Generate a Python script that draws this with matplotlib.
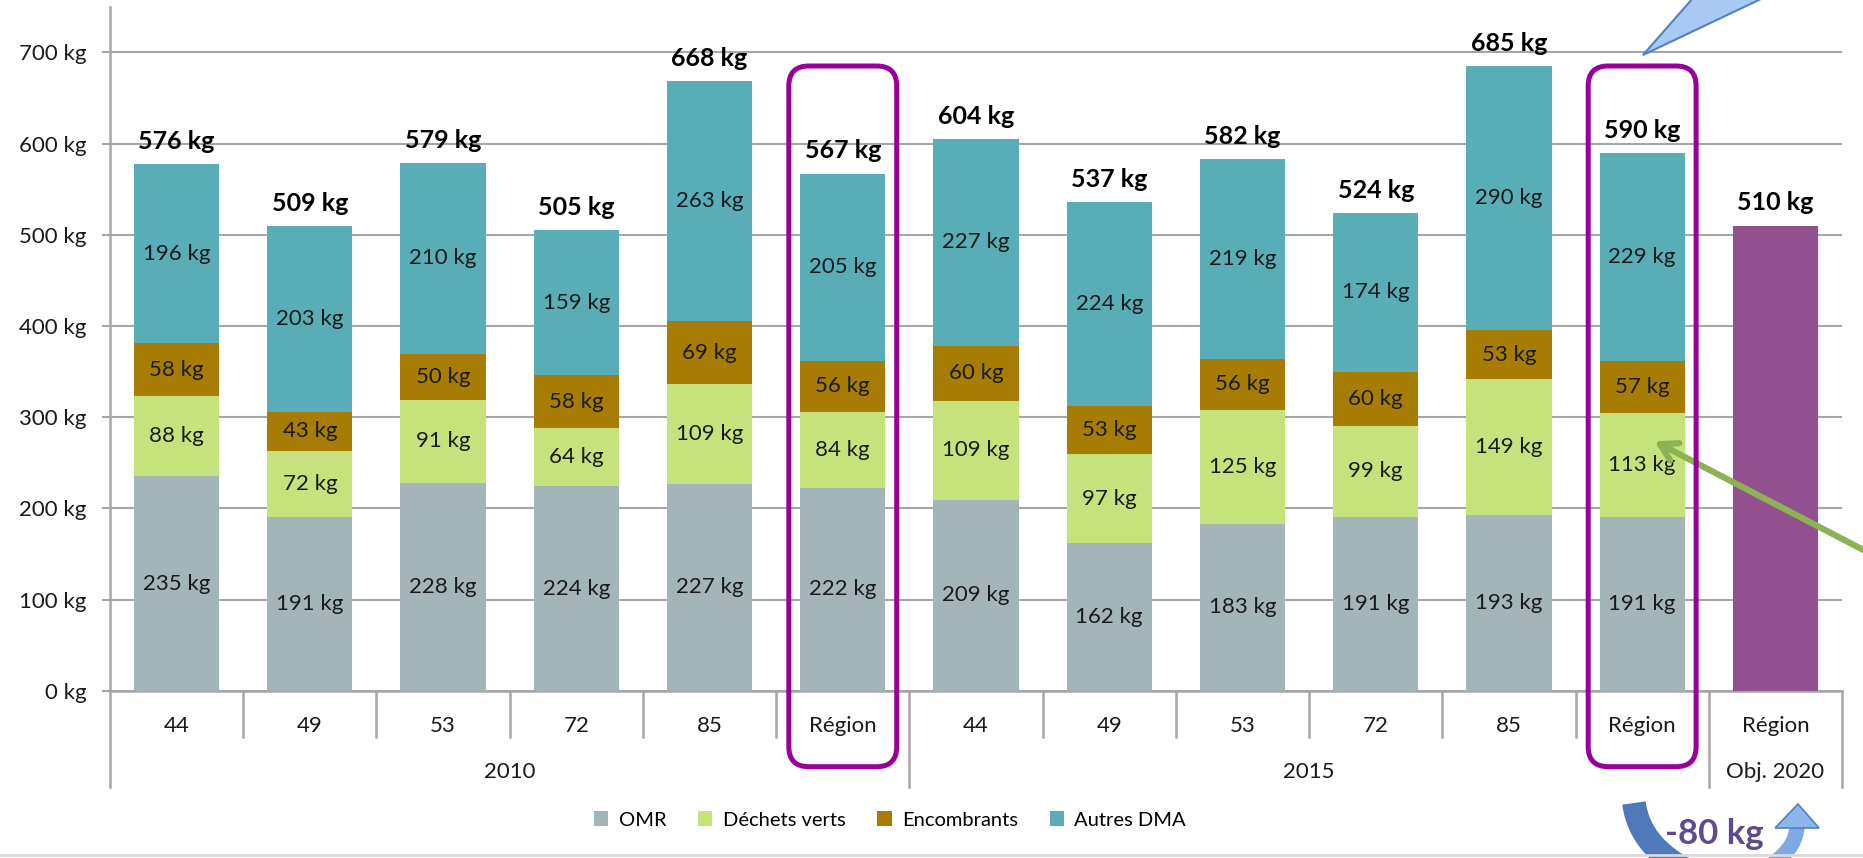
import matplotlib
matplotlib.use('Agg')
import matplotlib.pyplot as plt
import numpy as np
from matplotlib.patches import FancyBboxPatch, Polygon, FancyArrowPatch, PathPatch
from matplotlib.path import Path
from matplotlib.lines import Line2D

plt.rcParams['font.family'] = ['Lato', 'DejaVu Sans']

# data (kg / habitant)
categories = ['44', '49', '53', '72', '85', 'Région',
              '44', '49', '53', '72', '85', 'Région', 'Région']
omr = [235, 191, 228, 224, 227, 222, 209, 162, 183, 191, 193, 191]
dechets_verts = [88, 72, 91, 64, 109, 84, 109, 97, 125, 99, 149, 113]
encombrants = [58, 43, 50, 58, 69, 56, 60, 53, 56, 60, 53, 57]
autres = [196, 203, 210, 159, 263, 205, 227, 224, 219, 174, 290, 229]
totals = [576, 509, 579, 505, 668, 567, 604, 537, 582, 524, 685, 590]
objectif = 510
groups = ['2010', '2015', 'Obj. 2020']
group_centers = [2.5, 8.5, 12]

W, H = 1863, 858
fig = plt.figure(figsize=(W / 100, H / 100), dpi=100)

def fp(x, y):
    return (x / W, 1 - y / H)

y0 = 690.7      # pixel row of 0 kg
pxper = 0.912   # pixels per kg
ytop = 750
ax = fig.add_axes([110 / W, 1 - y0 / H, 1732 / W, ytop * pxper / H])

def dy(px):
    # pixel offset below the zero line -> data units
    return -px / pxper

c_omr = '#A4B5BA'
c_dv = '#C6E27C'
c_enc = '#A67C02'
c_aut = '#58ADB6'
c_obj = '#93508E'
grey = '#A6A6A6'
txt = '#1a1a1a'

x = np.arange(len(omr))
w = 0.64
b1 = np.array(omr)
b2 = b1 + np.array(dechets_verts)
b3 = b2 + np.array(encombrants)
ax.bar(x, omr, w, color=c_omr, zorder=3, label='OMR')
ax.bar(x, dechets_verts, w, bottom=b1, color=c_dv, zorder=3, label='Déchets verts')
ax.bar(x, encombrants, w, bottom=b2, color=c_enc, zorder=3, label='Encombrants')
ax.bar(x, autres, w, bottom=b3, color=c_aut, zorder=3, label='Autres DMA')
ax.bar([12], [objectif], w, color=c_obj, zorder=3)

for vals, bots in [(omr, np.zeros(len(omr))), (dechets_verts, b1),
                   (encombrants, b2), (autres, b3)]:
    for i, (v, b) in enumerate(zip(vals, bots)):
        ax.text(i, b + v / 2, f'{v} kg', ha='center', va='center',
                fontsize=16, color=txt, zorder=5)

for i, t in enumerate(totals + [objectif]):
    top = (b3[i] + autres[i]) if i < len(totals) else objectif
    ax.annotate(f'{t} kg', (i, top), xytext=(0, 8), textcoords='offset points',
                ha='center', va='bottom', fontsize=18, fontweight='bold', color='black')

ax.set_xlim(-0.5, 12.5)
ax.set_ylim(0, ytop)
ax.set_yticks(range(0, 701, 100))
ax.set_yticklabels([f'{v} kg' for v in range(0, 701, 100)], fontsize=16, color=txt)
ax.tick_params(axis='y', length=6, width=1.5, color=grey, pad=11)
ax.set_xticks(x.tolist() + [12])
ax.set_xticklabels(categories, fontsize=16, color=txt)
ax.tick_params(axis='x', length=0, pad=18)
ax.yaxis.grid(True, color=grey, lw=1.5, zorder=0)
ax.set_axisbelow(True)
for s in ['top', 'right']:
    ax.spines[s].set_visible(False)
for s in ['left', 'bottom']:
    ax.spines[s].set_color(grey)
    ax.spines[s].set_linewidth(1.8)

# category separators
long_bounds = [-0.5, 5.5, 11.5, 12.5]
for b in np.arange(-0.5, 13, 1.0):
    depth = 96 if b in long_bounds else 46
    ax.plot([b, b], [0, dy(depth)], color=grey, lw=1.8, clip_on=False, zorder=2)
for g, c in zip(groups, group_centers):
    ax.text(c, dy(81), g, ha='center', va='center', fontsize=16, color=txt)

# purple boxes around the regional bars
fig.canvas.draw()
for i in [5, 11]:
    xl, yb = ax.transData.transform((i - 0.405, dy(76)))
    xr, _ = ax.transData.transform((i + 0.405, 0))
    yt = H - 66
    box = FancyBboxPatch((xl, yb), xr - xl, yt - yb,
                         boxstyle='round,pad=0,rounding_size=20',
                         transform=None, fill=False, ec='#990099', lw=3.6, zorder=6)
    fig.add_artist(box)

# legend
ax.legend(loc='center', bbox_to_anchor=fp(890, 820), bbox_transform=fig.transFigure,
          ncol=4, frameon=False, fontsize=14.5, handlelength=0.7, handleheight=0.7,
          columnspacing=1.6, handletextpad=0.5)

# callout tip at the top right
tri = Polygon([fp(1643, 55), fp(1693, -2), fp(1763, -2)], closed=True,
              transform=fig.transFigure, fc='#A9C8F4', ec='#4F81BD', lw=1.5)
fig.add_artist(tri)

# green arrow pointing to the green segment
arr = FancyArrowPatch(fp(1875, 556), fp(1652, 440), transform=fig.transFigure,
                      arrowstyle='->,head_length=12,head_width=7', color='#8DB255',
                      lw=4.5, mutation_scale=1)
fig.add_artist(arr)

# curved arrows around "-80 kg"
verts = [fp(1634, 803), fp(1638, 835), fp(1660, 857), fp(1690, 872)]
left = PathPatch(Path(verts, [Path.MOVETO, Path.CURVE4, Path.CURVE4, Path.CURVE4]),
                 transform=fig.transFigure, fill=False, ec='#4F79B8', lw=17,
                 capstyle='butt')
fig.add_artist(left)
verts = [fp(1765, 870), fp(1785, 855), fp(1796, 845), fp(1797, 826)]
right = PathPatch(Path(verts, [Path.MOVETO, Path.CURVE4, Path.CURVE4, Path.CURVE4]),
                  transform=fig.transFigure, fill=False, ec='#7FA9E3', lw=11,
                  capstyle='butt')
fig.add_artist(right)
head = Polygon([fp(1798, 804), fp(1775, 828), fp(1819, 828)], closed=True,
               transform=fig.transFigure, fc='#8DB6EC', ec='#4F81BD', lw=1.2)
fig.add_artist(head)
fig.text(*fp(1714, 834), '-80 kg', ha='center', va='center', fontsize=25,
         fontweight='bold', color='#5F4A8B', zorder=10)

fig.add_artist(Line2D([0, 1], [1 - 855 / H] * 2, transform=fig.transFigure,
                      color='#D9D9D9', lw=2))

fig.savefig('out.png', dpi=100)
